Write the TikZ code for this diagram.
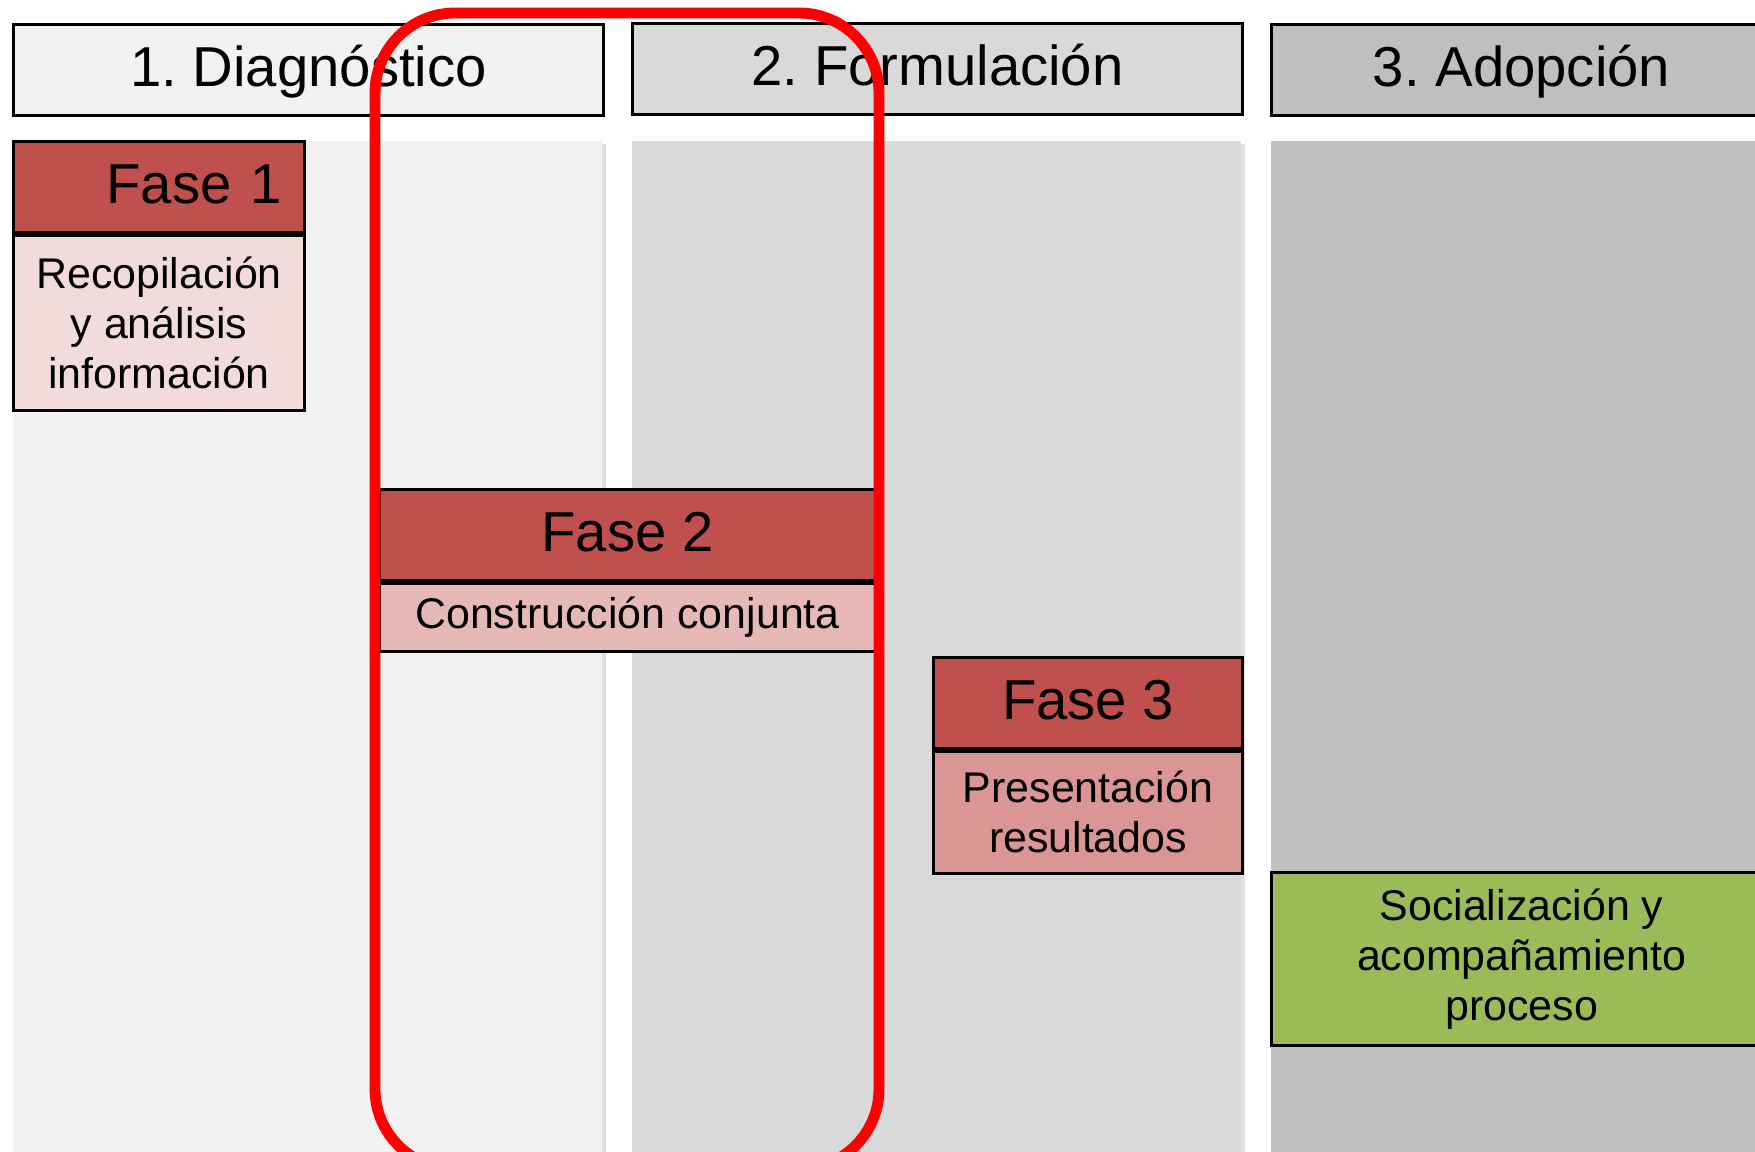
\documentclass[tikz,border=0pt]{standalone}
\usepackage{fontspec}
\setmainfont{Liberation Sans}
\frenchspacing
\usetikzlibrary{positioning,shadows}
\definecolor{panelA}{HTML}{F2F2F2}
\definecolor{panelB}{HTML}{D9D9D9}
\definecolor{panelC}{HTML}{BFBFBF}
\definecolor{faseRed}{HTML}{C0504D}
\definecolor{descA}{HTML}{F2DCDB}
\definecolor{descB}{HTML}{E6B9B8}
\definecolor{descC}{HTML}{D99694}
\definecolor{socGreen}{HTML}{9BBB59}

\begin{document}
\begin{tikzpicture}[x=0.01cm, y=-0.01cm]
  \tikzset{panel/.style={anchor=north west, inner sep=0pt, minimum height=10.4cm,
             drop shadow={shadow xshift=1.2pt, shadow yshift=-0.8pt, fill=black!25, opacity=.5}},
           stage/.style={draw, line width=0.8pt, anchor=north west, inner sep=0pt,
             minimum height=0.91cm, text height=0.40cm, text depth=0.07cm,
             font=\fontsize{16}{19}\selectfont},
           fase/.style={draw, line width=0.8pt, fill=faseRed, anchor=north west, inner sep=0pt,
             minimum height=0.91cm, text height=0.41cm, text depth=0.08cm,
             font=\fontsize{16}{19}\selectfont},
           desc/.style={draw, line width=0.8pt, align=center, inner sep=0pt,
             font=\fontsize{12.2}{14.2}\selectfont}}
  \useasboundingbox (0,0) rectangle (1755,1152);
  \clip (0,0) rectangle (1755,1152);
  \node[panel, fill=panelA, minimum width=5.89cm] (col1) at (12,140) {};
  \node[panel, fill=panelB, minimum width=6.09cm] (col2) at (631,140) {};
  \node[panel, fill=panelC, minimum width=5.00cm] (col3) at (1270,140) {};
  \node[stage, fill=panelA, minimum width=5.90cm] (diag) at (12,23) {1. Diagnóstico};
  \node[stage, fill=panelB, minimum width=6.10cm] (form) at (631,22) {2. Formulación};
  \node[stage, fill=panelC, minimum width=5.00cm] (adop) at (1270,23) {3. Adopción};
  \node[fase, minimum width=2.91cm, text width=2.45cm, align=right] (f1) at (12,140) {Fase 1};
  \node[desc, fill=descA, minimum width=2.91cm, minimum height=1.75cm, below=0pt of f1] (d1)
    {Recopilación\\y análisis\\información};
  \node[fase, minimum width=4.96cm] (f2) at (378,488) {Fase 2};
  \node[desc, fill=descB, minimum width=4.96cm, minimum height=0.68cm, below=0pt of f2] (d2)
    {Construcción conjunta};
  \node[fase, minimum width=3.09cm] (f3) at (932,656) {Fase 3};
  \node[desc, fill=descC, minimum width=3.09cm, minimum height=1.22cm, below=0pt of f3] (d3)
    {Presentación\\resultados};
  \node[desc, fill=socGreen, anchor=north west, minimum width=5.00cm, minimum height=1.73cm] (soc)
    at (1270,871) {Socialización y\\acompañamiento\\proceso};
  \draw[red, line width=3.1pt, rounded corners=0.8cm] (375,13) rectangle (879,1169);
\end{tikzpicture}
\end{document}
